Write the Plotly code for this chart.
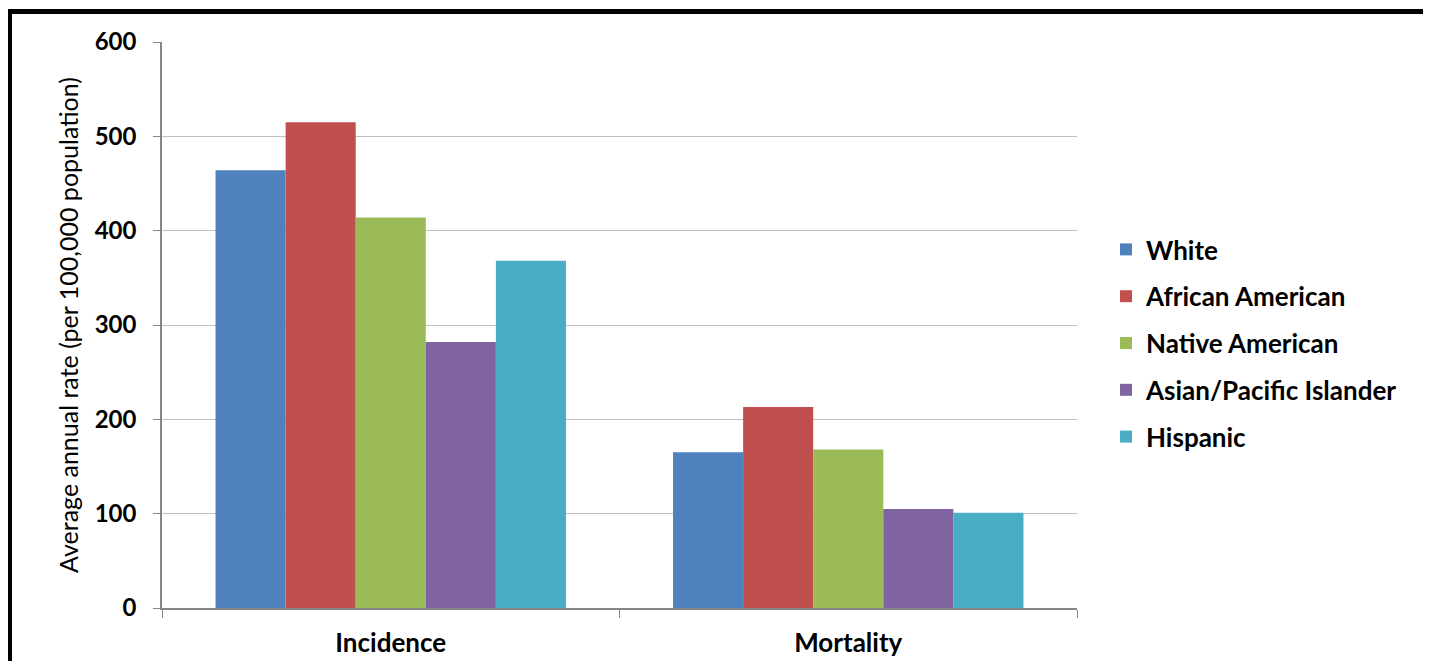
import plotly.graph_objects as go

categories = ["Incidence", "Mortality"]
series_names = ["White", "African American", "Native American", "Asian/Pacific Islander", "Hispanic"]
white = [464, 165]
african_american = [515, 213]
native_american = [414, 168]
asian_pacific = [282, 105]
hispanic = [368, 101]
colors = ["#4F81BD", "#C0504D", "#9BBB59", "#8064A2", "#4BACC6"]
y_ticks = [0, 100, 200, 300, 400, 500, 600]

values = [white, african_american, native_american, asian_pacific, hispanic]

# page body has an 8px margin, so the figure is drawn 8px inside the page
OFF = 8
W, H = 1431 - 2 * OFF, 669 - 2 * OFF
ml, mt = 162 - OFF, 42 - OFF
plot_right, plot_bottom = 1077 - OFF, 608 - OFF
mr, mb = W - plot_right, H - plot_bottom
pw, ph = W - ml - mr, H - mt - mb


def px_x(p):  # p in reference-image pixels
    return (p - OFF - ml) / pw


def px_y(p):
    return (plot_bottom - (p - OFF)) / ph


FONT = "Lato, 'Open Sans', Arial, sans-serif"

fig = go.Figure()
for name, vals, col in zip(series_names, values, colors):
    fig.add_trace(go.Bar(
        name=name, x=categories, y=vals, marker=dict(color=col, line=dict(width=0)),
        legendgroup=name,
    ))

border = dict(color="black", width=5)
fig.update_layout(
    width=W, height=H,
    margin=dict(l=ml, r=mr, t=mt, b=mb, autoexpand=False),
    paper_bgcolor="white", plot_bgcolor="white",
    barmode="group", bargap=0.234, bargroupgap=0,
    font=dict(family=FONT, color="#000000"),
    showlegend=True,
    legend=dict(
        x=px_x(1106), y=px_y(226), xanchor="left", yanchor="top",
        font=dict(size=26, family=FONT, weight="bold", color="#000000"),
        traceorder="grouped", tracegroupgap=10,
        itemwidth=30, bgcolor="rgba(0,0,0,0)",
    ),
    xaxis=dict(
        showline=True, linecolor="#868686", linewidth=1.5,
        ticks="outside", tickson="boundaries", ticklen=8, tickcolor="#868686",
        tickfont=dict(size=26, family=FONT, weight="bold", color="#000000"),
        ticklabelstandoff=11, showgrid=False, automargin=False,
    ),
    yaxis=dict(
        range=[0, 600], tickvals=y_ticks, showline=True, linecolor="#868686", linewidth=1.5,
        ticks="outside", ticklen=7, tickcolor="#868686",
        gridcolor="#C0C0C0", gridwidth=1.2,
        tickfont=dict(size=24, family=FONT, weight="bold", color="#000000"),
        ticklabelstandoff=12, automargin=False, zeroline=False,
        title=dict(text="Average annual rate (per 100,000 population)",
                   font=dict(size=25, family=FONT, color="#000000"), standoff=9),
    ),
    shapes=[
        dict(type="line", xref="paper", yref="paper",
             x0=px_x(7), x1=px_x(OFF + W), y0=px_y(11.5), y1=px_y(11.5),
             line=border, layer="above"),
        dict(type="line", xref="paper", yref="paper",
             x0=px_x(9.5), x1=px_x(9.5), y0=px_y(9), y1=px_y(OFF + H),
             line=border, layer="above"),
    ],
)

fig.write_html("out.html")
